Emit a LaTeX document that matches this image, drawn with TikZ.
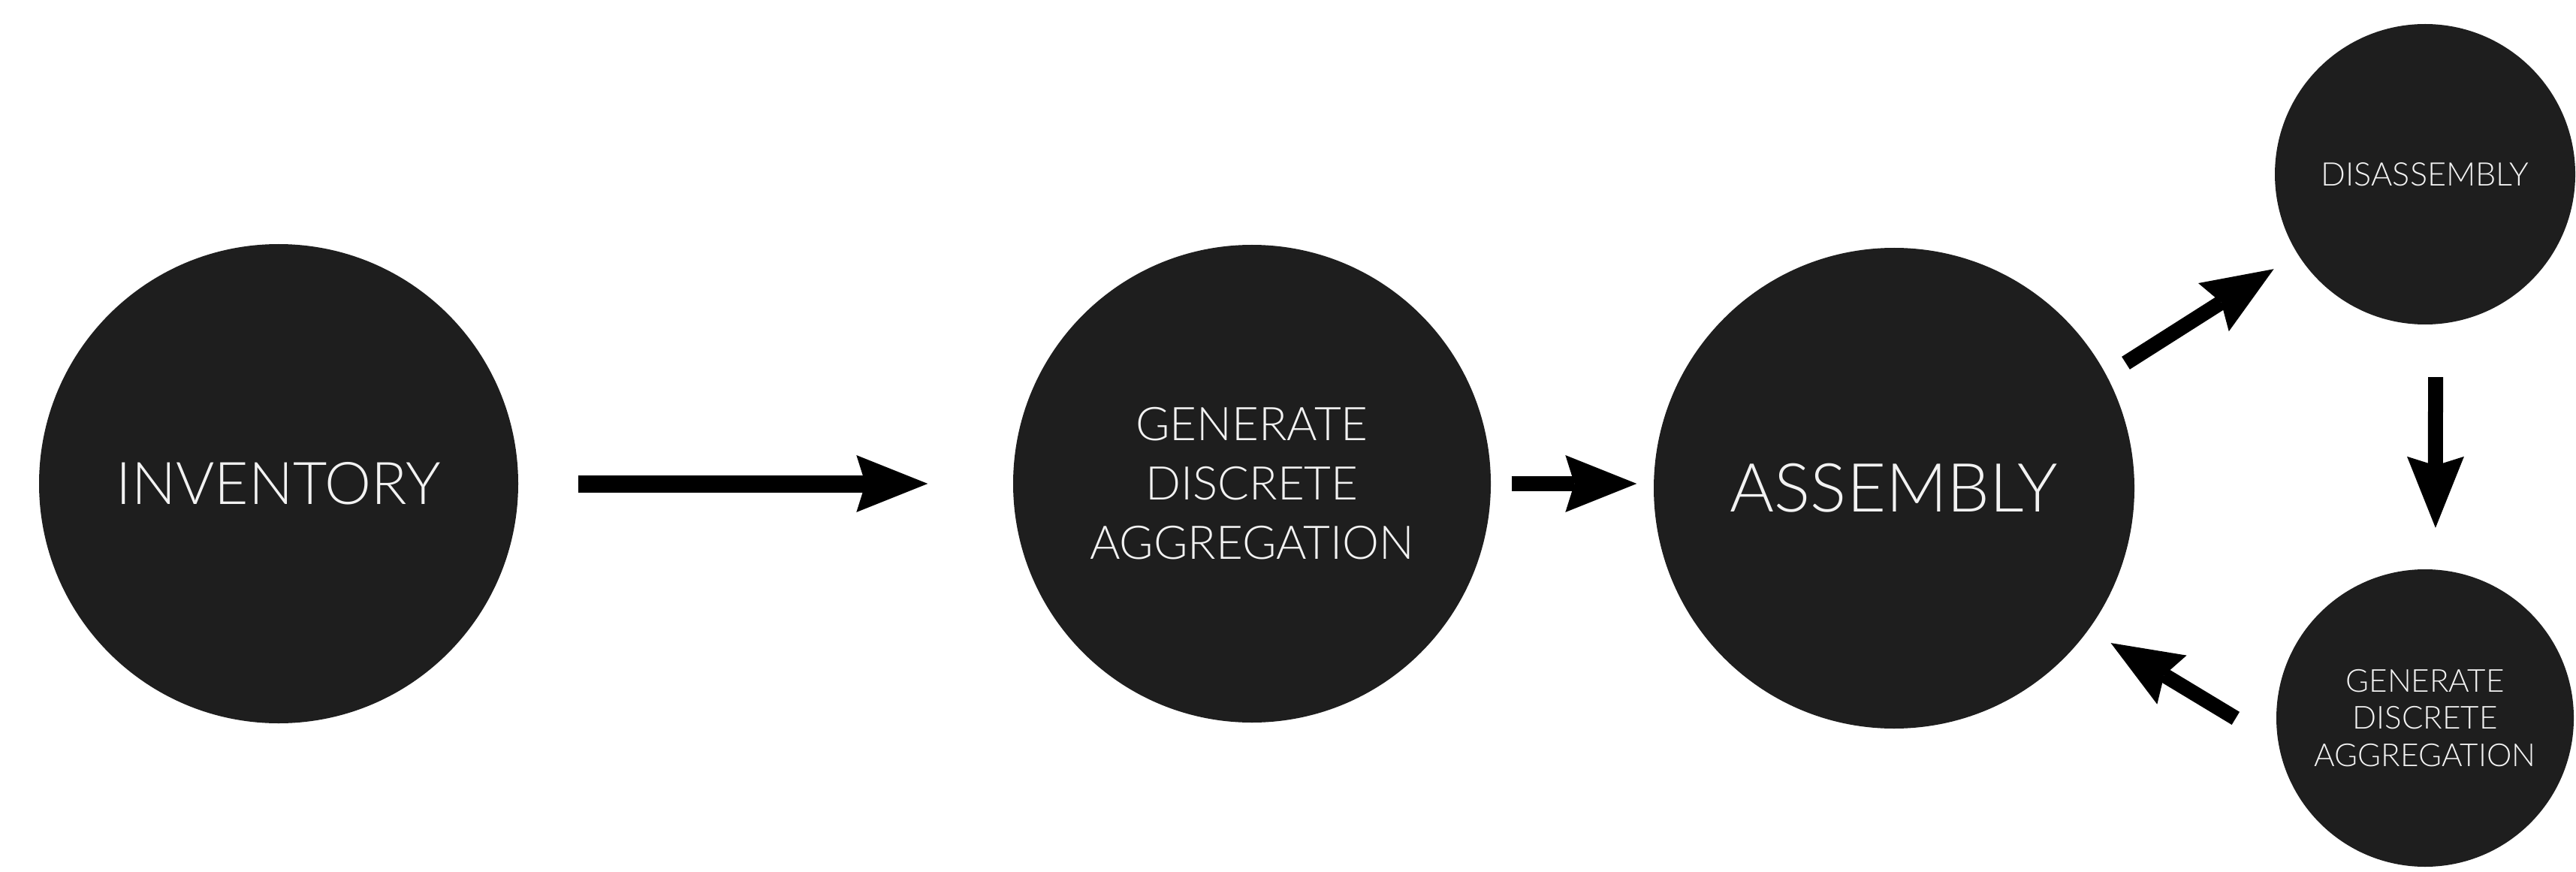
\documentclass[tikz,border=0pt]{standalone}
\usepackage{fontspec}
\setmainfont{Lato}[UprightFont=* Light]
\usetikzlibrary{arrows.meta}
\definecolor{discfill}{HTML}{1E1E1E}
\definecolor{txt}{HTML}{F2F2F2}
\begin{document}
\begin{tikzpicture}[
  disc/.style={circle, fill=discfill, text=txt, align=center, inner sep=0pt},
  arr/.style={line width=2mm, black, -{Stealth[length=9.5mm, width=7.6mm, inset=1.2mm, line width=0pt, fill=black]}},
]
\useasboundingbox (0,0) rectangle (34.30,-11.61);
\fill[white] (0,0) rectangle (34.30,-11.61);
\node[disc, minimum size=6.38cm, font=\fontsize{22.3}{26}\selectfont] (inv) at (3.71,-6.44) {INVENTORY};
\node[disc, minimum size=6.36cm, font=\fontsize{17.6}{22.5}\selectfont] (gda1) at (16.67,-6.44) {GENERATE\\DISCRETE\\AGGREGATION};
\node[disc, minimum size=6.40cm, font=\fontsize{25.6}{28}\selectfont] (asm) at (25.22,-6.50) {ASSEMBLY};
\node[disc, minimum size=4.00cm, font=\fontsize{12.3}{14}\selectfont] (dis) at (32.29,-2.32) {DISASSEMBLY};
\node[disc, minimum size=3.96cm, font=\fontsize{12}{14.2}\selectfont] (gda2) at (32.29,-9.56) {GENERATE\\DISCRETE\\AGGREGATION};
\draw[arr, line width=2.3mm, shorten <=0.79cm, shorten >=1.13cm] (inv.east) -- (gda1.west);
\draw[arr, shorten <=0.27cm, shorten >=0.22cm] (gda1.east) -- (gda1.east -| asm.west);
\draw[arr, shorten <=0.30cm, shorten >=0.37cm] (asm.28) -- (dis.212);
\draw[arr, shorten <=0.70cm, shorten >=0.55cm] (dis.-86) -- (gda2.86);
\draw[arr, shorten <=0.66cm, shorten >=0.34cm] (gda2.190) -- (asm.-36);
\end{tikzpicture}
\end{document}
